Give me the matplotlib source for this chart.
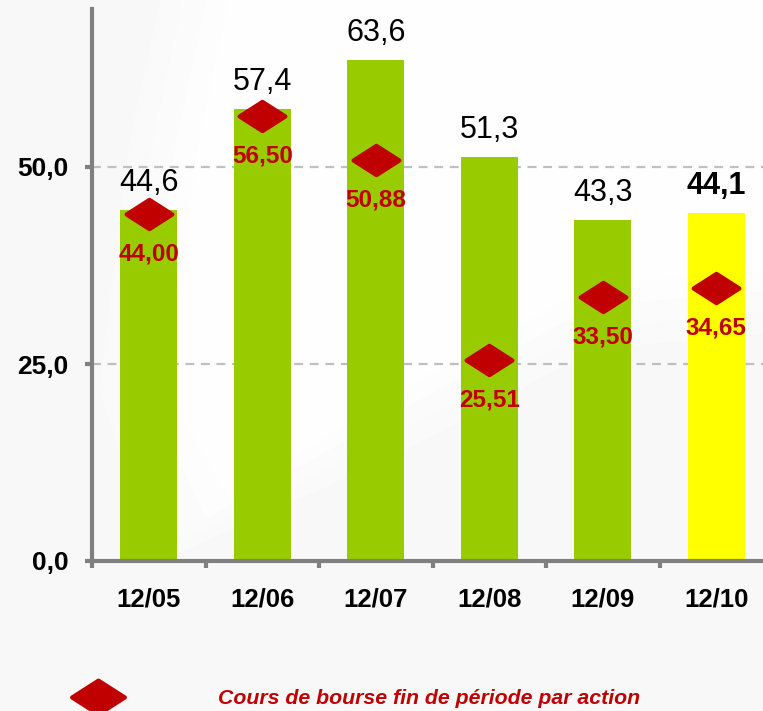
import matplotlib
matplotlib.use("Agg")
import matplotlib.pyplot as plt
from matplotlib.path import Path
from matplotlib.lines import Line2D
from matplotlib.patches import Polygon
import numpy as np

plt.rcParams['font.family'] = ['Liberation Sans', 'DejaVu Sans']

# Data
periods = ["12/05", "12/06", "12/07", "12/08", "12/09", "12/10"]
bar_values = [44.6, 57.4, 63.6, 51.3, 43.3, 44.1]
bar_labels = ["44,6", "57,4", "63,6", "51,3", "43,3", "44,1"]
share_price = [44.00, 56.50, 50.88, 25.51, 33.50, 34.65]
share_labels = ["44,00", "56,50", "50,88", "25,51", "33,50", "34,65"]
y_ticks = [0, 25, 50]
y_tick_labels = ["0,0", "25,0", "50,0"]
legend_text = "Cours de bourse fin de période par action"

GREEN = "#99cc00"
YELLOW = "#ffff00"
RED = "#c00000"
AXIS_GRAY = "#808080"
BG = "#f8f8f8"

W, H = 763, 711
fig = plt.figure(figsize=(W / 100, H / 100), dpi=100)
fig.patch.set_facecolor(BG)

# soft white swoosh in the background
for i, a in enumerate([0.35, 0.35, 0.5, 0.8]):
    d = 0.03 * (3 - i)
    poly = Polygon([(0.30 - d, 1.0), (1.0, 1.0), (1.0, 0.62 - d),
                    (0.78, 0.60 - d), (0.52, 0.45 - d), (0.30 - d, 0.30 - d),
                    (0.22 - d, 0.45), (0.26 - d, 0.80)],
                   closed=True, transform=fig.transFigure,
                   facecolor="white", edgecolor="none", alpha=a, zorder=0)
    fig.add_artist(poly)

# axes placement in pixels
x0_px, y0_px, ytop_px = 92, 561, 9
cat_w = 113.5
ax = fig.add_axes([x0_px / W, 1 - y0_px / H, (W - x0_px) / W, (y0_px - ytop_px) / H])
ax.patch.set_alpha(0)

x = np.arange(len(periods))
colors = [GREEN] * (len(periods) - 1) + [YELLOW]
ax.bar(x, bar_values, width=0.5, color=colors, edgecolor="none", zorder=3)

# bar value labels
for i, (v, lab) in enumerate(zip(bar_values, bar_labels)):
    bold = (i == len(bar_values) - 1)
    ax.annotate(lab, (x[i], v), xytext=(0, 19), textcoords="offset pixels",
                ha="center", va="baseline", fontsize=22,
                fontweight="bold" if bold else "normal", color="black", zorder=5)

# diamond marker with flattened shape
diamond = Path([(-1, 0), (0, 0.64), (1, 0), (0, -0.64), (-1, 0)],
               [Path.MOVETO, Path.LINETO, Path.LINETO, Path.LINETO, Path.CLOSEPOLY])
ax.plot(x, share_price, linestyle="none", marker=diamond, markersize=33,
        markerfacecolor=RED, markeredgecolor=RED, markeredgewidth=3,
        solid_joinstyle="round", zorder=4)
for i, (v, lab) in enumerate(zip(share_price, share_labels)):
    ax.annotate(lab, (x[i], v), xytext=(0, -40), textcoords="offset pixels",
                ha="center", va="center", fontsize=17.5, fontweight="bold",
                color=RED, zorder=5)

# grid
for yv in [25, 50]:
    ax.axhline(yv, color="#c0c0c0", linewidth=1.6, linestyle=(0, (4, 3)), zorder=1)

# spines
for s in ["top", "right"]:
    ax.spines[s].set_visible(False)
for s in ["left", "bottom"]:
    ax.spines[s].set_color(AXIS_GRAY)
    ax.spines[s].set_linewidth(3)
    ax.spines[s].set_zorder(6)

ax.set_yticks(y_ticks)
ax.set_yticklabels(y_tick_labels, fontsize=19, fontweight="bold")
ax.tick_params(axis="y", length=5, width=3, color=AXIS_GRAY, pad=12, direction="out")

ax.set_xticks(x)
ax.set_xticklabels(periods, fontsize=18.5, fontweight="bold")
ax.tick_params(axis="x", which="major", length=0, pad=19)
ax.set_xticks(np.arange(-0.5, len(periods), 1.0), minor=True)
ax.tick_params(axis="x", which="minor", length=5, width=3, color=AXIS_GRAY, direction="out")

# view limits set after the ticks so they are not widened
ax.set_xlim(-0.5, -0.5 + (W - x0_px) / cat_w)
ax.set_ylim(0, (y0_px - ytop_px) / 7.88)

# legend
leg_marker = Line2D([98 / W], [1 - 697 / H], transform=fig.transFigure,
                    linestyle="none", marker=diamond, markersize=38,
                    markerfacecolor=RED, markeredgecolor=RED, markeredgewidth=3,
                    solid_joinstyle="round")
fig.add_artist(leg_marker)
fig.text(218 / W, 1 - 699 / H, legend_text, ha="left", va="center",
         fontsize=15.3, fontweight="bold", fontstyle="italic", color=RED)

fig.savefig("out.png", dpi=100, facecolor=fig.get_facecolor())
